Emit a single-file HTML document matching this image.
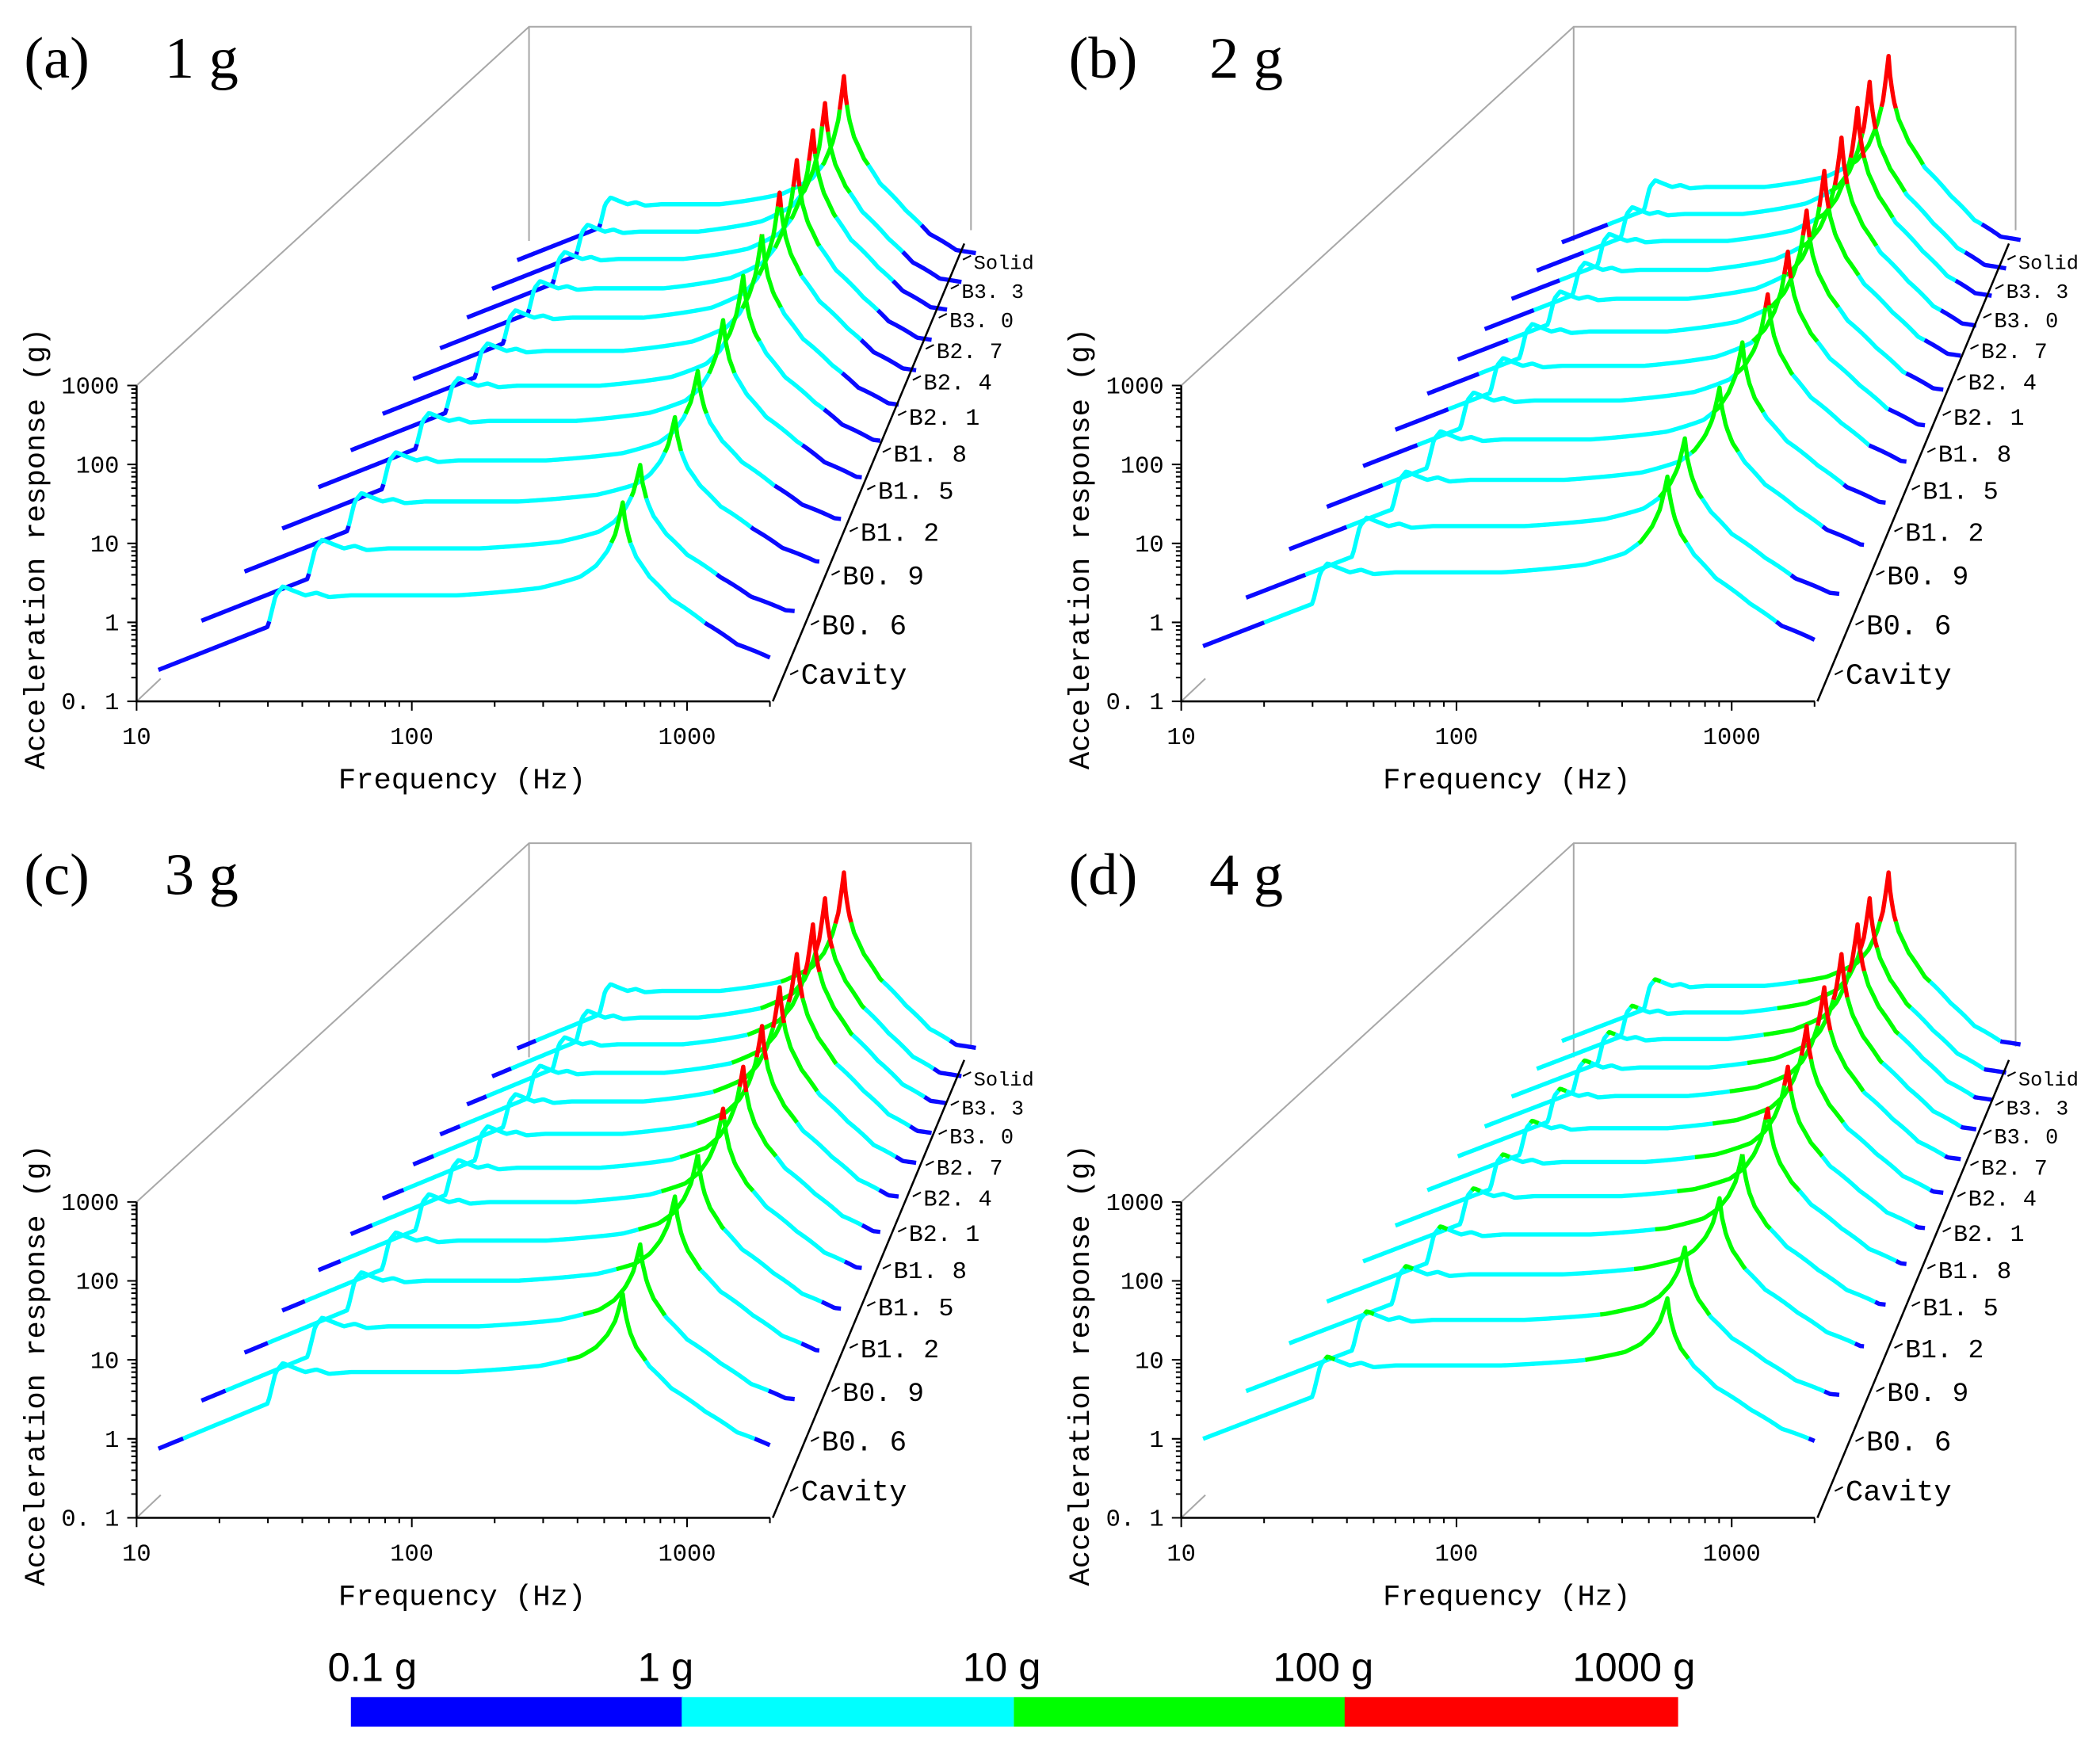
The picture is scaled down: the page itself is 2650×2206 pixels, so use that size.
<!DOCTYPE html>
<html><head><meta charset="utf-8"><style>
html,body{margin:0;padding:0;background:#fff;}
svg{display:block;}
text{font-family:"Liberation Mono","Noto Sans CJK SC",monospace;}
.tt{font-family:"Liberation Serif","Noto Serif CJK SC",serif;}
.cb{font-family:"Liberation Sans",sans-serif;}
</style></head><body>
<svg id="fig" xmlns="http://www.w3.org/2000/svg" width="2650" height="2206" viewBox="0 0 1568 1306" preserveAspectRatio="none">
<g id="panels"></g>
<g>
<rect x="262" y="1268" width="248" height="22" fill="#0000ff"/>
<rect x="509" y="1268" width="248" height="22" fill="#00ffff"/>
<rect x="757" y="1268" width="248" height="22" fill="#00ff00"/>
<rect x="1004" y="1268" width="249" height="22" fill="#ff0000"/>
<text class="cb" x="278" y="1256" font-size="30" text-anchor="middle">0.1 g</text>
<text class="cb" x="497" y="1256" font-size="30" text-anchor="middle">1 g</text>
<text class="cb" x="748" y="1256" font-size="30" text-anchor="middle">10 g</text>
<text class="cb" x="988" y="1256" font-size="30" text-anchor="middle">100 g</text>
<text class="cb" x="1220" y="1256" font-size="30" text-anchor="middle">1000 g</text>
</g>
</svg>
<script>
const seriesNames = ["Cavity","B0. 6","B0. 9","B1. 2","B1. 5","B1. 8","B2. 1","B2. 4","B2. 7","B3. 0","B3. 3","Solid"];
const panelLetters = ["(a)","(b)","(c)","(d)"];
const panelLoads = ["1 g","2 g","3 g","4 g"];
const peakHz = [584,528,553,539,542,532,516,499,492,479,452,459];
const peakA = [33,27,30,38,60,89,124,185,230,260,290,320];
const peakB = [70,60,75,95,140,200,280,400,520,600,650,700];
const peakC = [68,82,95,110,150,210,290,400,520,600,650,700];
const peakD = [60,75,90,110,150,210,290,400,520,600,650,700];
const flatG = [2.2,4.3,7,8.5];
const startG = [0.25,0.5,0.75,1.0];
const endG = [0.3,0.5,0.7,0.8];
const lowF = [30,32,34,37,41,45,50,60];
const lowRel = [0.4,1.0,1.3,1.15,1.0,1.08,0.95,1.0];
const riseR = [0.25,0.5,0.7,0.8,0.88,0.94,0.98,1];
const riseW = [0,0.08,0.2,0.32,0.48,0.66,0.88,1];
const fallR = [1,1.02,1.06,1.12,1.25,1.5,2,2.6,3.5,5];
const fallW = [1,0.88,0.76,0.66,0.54,0.4,0.25,0.12,0.03,0];
const yTicks = ["0. 1","1","10","100","1000"];
const xTicks = ["10","100","1000"];

const peaks=[peakA,peakB,peakC,peakD];
const offs=[[0,0],[780,0],[0,610],[780,610]];
const depthFrac=[0,.12,.24,.345,.446,.536,.625,.71,.785,.86,.93,1];
const NS="http://www.w3.org/2000/svg";
const L=Math.log10;
function mk(tag,attrs,parent){const e=document.createElementNS(NS,tag);for(const k in attrs)e.setAttribute(k,attrs[k]);parent.appendChild(e);return e;}
function interp(xs,ys,x){if(x<=xs[0])return ys[0];for(let i=1;i<xs.length;i++){if(x<=xs[i]){const t=(x-xs[i-1])/(xs[i]-xs[i-1]);return ys[i-1]+t*(ys[i]-ys[i-1]);}}return ys[ys.length-1];}
function value(p,i,f){
  const fl=flatG[p],fp=peakHz[i],pk=peaks[p][i];
  if(f<lowF[0]){const t=(L(f)-L(12))/(L(lowF[0])-L(12));return Math.pow(10,L(startG[p])+t*(L(fl*lowRel[0])-L(startG[p])));}
  if(f<=lowF[lowF.length-1])return fl*Math.pow(10,interp(lowF.map(L),lowRel.map(L),L(f)));
  const r=f/fp;
  if(r<riseR[0])return fl;
  if(r<=1){const w=interp(riseR,riseW,r);return Math.pow(10,L(fl)+(L(pk)-L(fl))*w);}
  const w=interp(fallR,fallW,r);return Math.pow(10,L(endG[p])+(L(pk)-L(endG[p]))*w);
}
function col(v){return v<1?"#0a0aff":v<10?"#00ffff":v<100?"#00ff00":"#ff0000";}
const root=document.getElementById("panels");
for(let p=0;p<4;p++){
  const [ox,oy]=offs[p];
  const g=mk("g",{},root);
  
  
  function proj(i,f,v){const fr=depthFrac[i],s=1-0.25*fr;return [ox+102+272*fr+205.5*s*L(f/10), oy+524-312*fr-59*s*L(v/0.1)];}
  const box=mk("path",{d:`M${ox+102},${oy+288} L${ox+395},${oy+20} L${ox+725},${oy+20} L${ox+725},${oy+172} M${ox+395},${oy+20} L${ox+395},${oy+180} M${ox+102},${oy+524} L${ox+120},${oy+507}`,stroke:"#a8a8a8","stroke-width":1.2,fill:"none"},g);
  
  
  for(let i=11;i>=0;i--){
    const fs=[];for(let k=0;k<=320;k++)fs.push(12*Math.pow(2000/12,k/320));
    fs.push(peakHz[i]);fs.sort((a,b)=>a-b);
    const cg=mk("g",{},g);
    
    
    let run=[],rc=null;
    const flush=()=>{if(run.length>1)mk("polyline",{points:run.map(q=>q.join(",")).join(" "),stroke:rc,"stroke-width":3.2,fill:"none","stroke-linejoin":"round"},cg);};
    let prev=null;
    for(const f of fs){const v=value(p,i,f);const pt=proj(i,f,v);
      if(prev){const c=col(Math.sqrt(prev.v*v));if(c!==rc){flush();run=[prev.pt];rc=c;}run.push(pt);}
      prev={v,pt};}
    flush();
  }
  const ax=mk("path",{d:`M${ox+102},${oy+288} L${ox+102},${oy+524} L${ox+575},${oy+524}`,stroke:"#000","stroke-width":1.5,fill:"none"},g);
  
  
  let td="";
  for(let d=0;d<4;d++)for(let m=1;m<10;m++){const y=oy+524-59*(d+L(m));td+=`M${ox+102},${y} L${ox+102-(m==1?7:4)},${y} `;}
  td+=`M${ox+102},${oy+288} L${ox+95},${oy+288} `;
  for(let d=0;d<3;d++)for(let m=1;m<10;m++){if(d==2&&m>2)break;const x=ox+102+205.5*(d+L(m));td+=`M${x},${oy+524} L${x},${oy+524+(m==1?7:4)} `;}
  const tk=mk("path",{d:td,stroke:"#000","stroke-width":1.2,fill:"none"},g);
  
  
  yTicks.forEach((t,k)=>{const e=mk("text",{x:ox+89,y:oy+524-59*k+6,"font-size":18,"text-anchor":"end"},g);e.textContent=t;
    
    });
  xTicks.forEach((t,k)=>{const e=mk("text",{x:ox+102+205.5*k,y:oy+556,"font-size":18,"text-anchor":"middle"},g);e.textContent=t;
    
    });
  const xt=mk("text",{x:ox+345,y:oy+589,"font-size":22,"text-anchor":"middle"},g);xt.textContent="Frequency (Hz)";
  
  
  const yt=mk("text",{x:0,y:0,"font-size":22,"text-anchor":"middle",transform:`translate(${ox+33},${oy+410}) rotate(-90)`},g);yt.textContent="Acceleration response (g)";
  
  
  const da=mk("line",{x1:ox+577,y1:oy+524,x2:ox+720,y2:oy+182,stroke:"#000","stroke-width":1.5},g);
  
  
  for(let i=0;i<12;i++){const fr=depthFrac[i];const x=ox+590+129*fr,y=oy+504-310*fr;
    mk("line",{x1:x,y1:y,x2:x+6,y2:y-3,stroke:"#000","stroke-width":1.2},g);
    const e=mk("text",{x:x+8,y:y+7,"font-size":22-7*fr},g);e.textContent=seriesNames[i];
    
    }
  const t1=mk("text",{class:"tt",x:ox+18,y:oy+58,"font-size":44},g);t1.textContent=panelLetters[p];
  
  
  const t2=mk("text",{class:"tt",x:ox+123,y:oy+58,"font-size":44},g);t2.textContent=panelLoads[p];
  
  
}
</script>
</body></html>
